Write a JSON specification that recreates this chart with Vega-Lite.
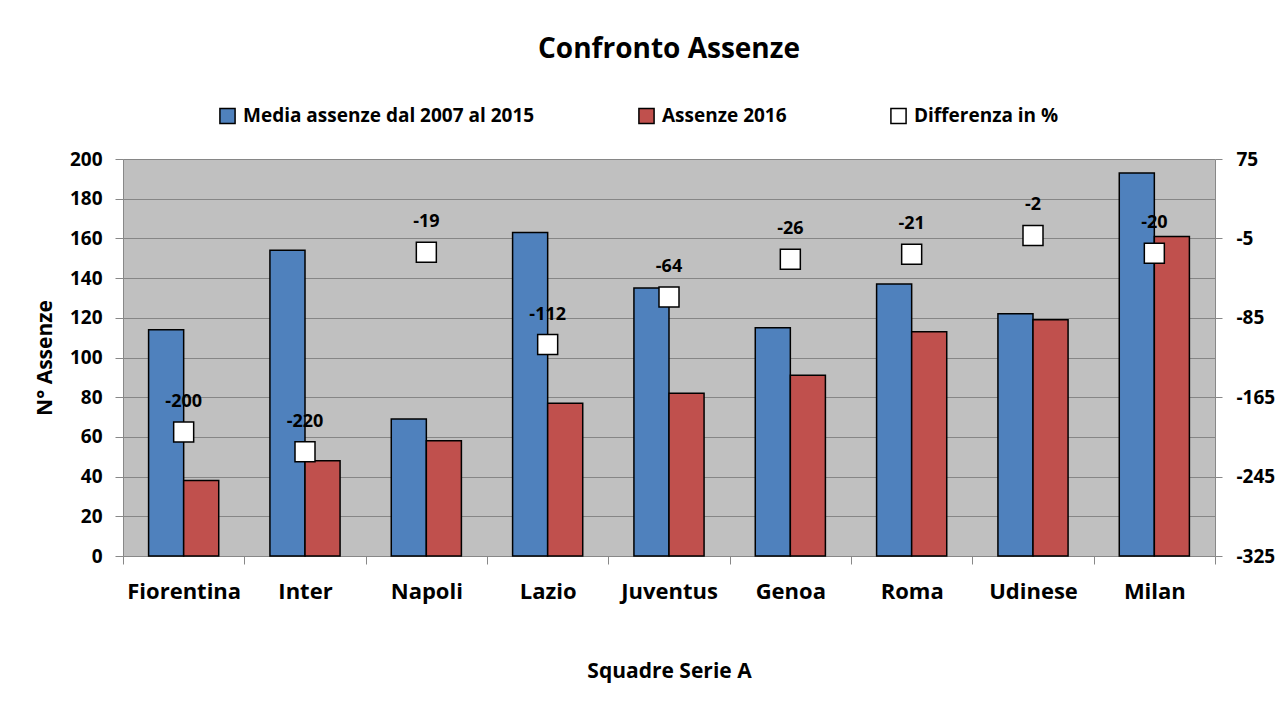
{
  "$schema": "https://vega.github.io/schema/vega-lite/v6.json",
  "width": 1092,
  "height": 397,
  "autosize": {"type": "none"},
  "padding": {"left": 123, "top": 159, "right": 73, "bottom": 168},
  "background": "white",
  "title": {"text": "Confronto Assenze", "fontSize": 28, "font": "Open Sans", "fontWeight": "bold", "anchor": "middle", "offset": 42, "color": "black"},
  "config": {
    "font": "Open Sans",
    "view": {"stroke": null, "fill": "#C0C0C0"}
  },
  "data": {"values": [
    {"squadra": "Fiorentina", "Media assenze dal 2007 al 2015": 114, "Assenze 2016": 38, "diff": -200},
    {"squadra": "Inter", "Media assenze dal 2007 al 2015": 154, "Assenze 2016": 48, "diff": -220},
    {"squadra": "Napoli", "Media assenze dal 2007 al 2015": 69, "Assenze 2016": 58, "diff": -19},
    {"squadra": "Lazio", "Media assenze dal 2007 al 2015": 163, "Assenze 2016": 77, "diff": -112},
    {"squadra": "Juventus", "Media assenze dal 2007 al 2015": 135, "Assenze 2016": 82, "diff": -64},
    {"squadra": "Genoa", "Media assenze dal 2007 al 2015": 115, "Assenze 2016": 91, "diff": -26},
    {"squadra": "Roma", "Media assenze dal 2007 al 2015": 137, "Assenze 2016": 113, "diff": -21},
    {"squadra": "Udinese", "Media assenze dal 2007 al 2015": 122, "Assenze 2016": 119, "diff": -2},
    {"squadra": "Milan", "Media assenze dal 2007 al 2015": 193, "Assenze 2016": 161, "diff": -20}
  ]},
  "encoding": {
    "x": {
      "field": "squadra", "type": "nominal", "sort": null,
      "scale": {"paddingInner": 0, "paddingOuter": 0},
      "axis": {
        "title": "Squadre Serie A", "labelAngle": 0, "labelFontSize": 22, "labelFontWeight": "bold", "labelColor": "black",
        "labelPadding": 17, "tickBand": "extent", "tickSize": 8, "tickColor": "#888888", "domainColor": "#888888",
        "titleFontSize": 21, "titleFontWeight": "bold", "titlePadding": 58, "titleColor": "black"
      }
    }
  },
  "layer": [
    {
      "transform": [{"fold": ["Media assenze dal 2007 al 2015", "Assenze 2016"], "as": ["serie", "valore"]}],
      "mark": {"type": "bar", "stroke": "black", "strokeWidth": 1.5},
      "encoding": {
        "xOffset": {"field": "serie", "type": "nominal", "sort": ["Media assenze dal 2007 al 2015", "Assenze 2016"],
          "scale": {"paddingInner": 0, "paddingOuter": 0.73}},
        "y": {
          "field": "valore", "type": "quantitative",
          "scale": {"domain": [0, 200], "nice": false},
          "axis": {
            "title": "N° Assenze", "values": [0,20,40,60,80,100,120,140,160,180,200],
            "grid": true, "gridColor": "#868686", "gridWidth": 1.2,
            "labelFontSize": 19, "labelFontWeight": "bold", "labelColor": "black", "labelPadding": 13,
            "tickSize": 8, "tickColor": "#888888", "domainColor": "#888888",
            "titleFontSize": 21, "titleFontWeight": "bold", "titlePadding": 14, "titleColor": "black"
          }
        },
        "color": {
          "field": "serie", "type": "nominal",
          "scale": {"domain": ["Media assenze dal 2007 al 2015", "Assenze 2016", "Differenza in %"], "range": ["#4F81BD", "#C0504D", "#FFFFFF"]},
          "legend": {
            "title": null, "orient": "none", "legendX": 95, "legendY": -53, "direction": "horizontal",
            "symbolType": "square", "symbolSize": 230, "symbolStrokeColor": "black", "symbolStrokeWidth": 1.5,
            "labelFontSize": 19, "labelFontWeight": "bold", "labelColor": "black", "columnPadding": 100, "labelOffset": 6, "labelLimit": 400
          }
        }
      }
    },
    {
      "encoding": {
        "y": {
          "field": "diff", "type": "quantitative",
          "scale": {"domain": [-325, 75], "nice": false, "zero": false},
          "axis": {
            "title": null, "orient": "right", "values": [75, -5, -85, -165, -245, -325], "grid": false,
            "labelExpr": "replace(datum.label, '−', '-')",
            "labelFontSize": 19, "labelFontWeight": "bold", "labelColor": "black", "labelPadding": 14,
            "tickSize": 7, "tickColor": "#888888", "domainColor": "#888888"
          }
        }
      },
      "layer": [
        {
          "mark": {"type": "point", "shape": "square", "filled": true, "size": 400, "stroke": "black", "strokeWidth": 1.5, "opacity": 1},
          "encoding": {"color": {"datum": "Differenza in %"}}
        },
        {
          "mark": {"type": "text", "dy": -30, "fontSize": 18, "fontWeight": "bold", "color": "black"},
          "encoding": {"text": {"field": "diff", "type": "nominal"}}
        }
      ]
    }
  ],
  "resolve": {"scale": {"y": "independent"}}
}
